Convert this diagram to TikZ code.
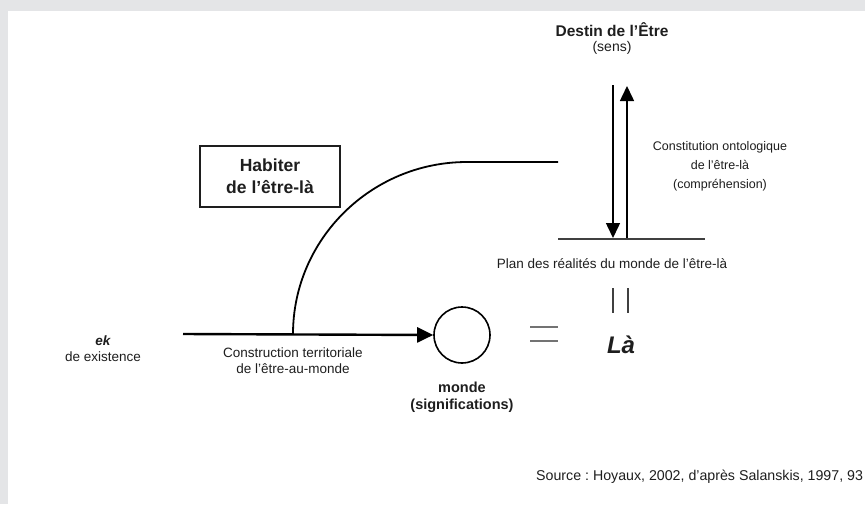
\documentclass[tikz,border=0pt]{standalone}
\usepackage{fontspec}
\setmainfont{Liberation Sans}
\usetikzlibrary{arrows.meta}
\definecolor{framegray}{HTML}{E4E5E7}
\definecolor{inkc}{HTML}{1E1E1E}
\frenchspacing
\begin{document}
\begin{tikzpicture}[x=1pt,y=-1pt,
  txt/.style={font=\fontsize{13.5}{16}\selectfont, text=inkc, align=center, inner sep=0pt},
  boldtxt/.style={txt, font=\fontsize{14.5}{17}\selectfont\bfseries},
  boxtxt/.style={font=\fontsize{17.5}{22}\selectfont\bfseries, text=inkc, align=center, draw=inkc, line width=1.3pt, minimum width=140, minimum height=61, inner sep=0pt},
  vert/.style={draw=black, line width=1.5pt, -{Triangle[length=15pt,width=14pt]}},
  mainarr/.style={draw=black, line width=2.4pt, -{Triangle[length=16pt,width=15pt]}},
  curveline/.style={draw=black, line width=1.8pt},
  thinline/.style={draw=black!75, line width=1.3pt},
  eqline/.style={draw=black!55, line width=2pt}
]
\useasboundingbox (0,0) rectangle (865,504);
\clip (0,0) rectangle (865,504);
\fill[framegray] (0,0) rectangle (865,504);
\fill[white] (8,11) rectangle (865,504);

% top: destiny
\node[boldtxt, font=\fontsize{15.5}{18}\selectfont\bfseries] (destin) at (612,30) {Destin de l'Être};
\node[txt, font=\fontsize{14}{16}\selectfont] (sens) at (612,48) {(sens)};
\coordinate (downtop) at (613,85);
\coordinate (downbot) at (613,238);
\coordinate (upbot) at (627,239);
\coordinate (uptop) at (627,86);
\draw[vert] (downtop) -- (downbot);
\draw[vert] (upbot) -- (uptop);

% plan line
\coordinate (planL) at (558,239);
\coordinate (planR) at (705,239);
\draw[thinline] (planL) -- (planR);
\node[txt] (plan) at (612,264) {Plan des réalités du monde de l'être-là};

\node[txt, font=\fontsize{12.5}{19}\selectfont] (constit) at (720,166) {Constitution ontologique\\de l'être-là\\(compréhension)};

% habiter box
\node[boxtxt] (habiter) at (270,176.5) {Habiter\\de l'être-là};

% world circle and main arrow
\node[draw=black, circle, line width=1.6pt, minimum size=56, inner sep=0pt] (monde) at (462,335) {};
\coordinate (ekend) at (183,334);
\draw[mainarr] (ekend) -- (monde.west);

% curve
\coordinate (curvestart) at (293,334);
\coordinate (curvetop) at (467,162);
\coordinate (curveend) at (558,162);
\draw[curveline] (curvestart) .. controls (293,239.6) and (370.9,162) .. (curvetop) -- (curveend);

% equals and parallel marks
\coordinate (eqAL) at (530,327); \coordinate (eqAR) at (558,327);
\coordinate (eqBL) at (530,341); \coordinate (eqBR) at (558,341);
\draw[eqline] (eqAL) -- (eqAR);
\draw[eqline] (eqBL) -- (eqBR);
\coordinate (parAt) at (613,288); \coordinate (parAb) at (613,313);
\coordinate (parBt) at (628,288); \coordinate (parBb) at (628,313);
\draw[thinline] (parAt) -- (parAb);
\draw[thinline] (parBt) -- (parBb);
\node[font=\fontsize{24}{28}\selectfont\bfseries\itshape, text=inkc, inner sep=0pt] (la) at (621,345) {Là};

% labels
\node[font=\fontsize{13.5}{16}\selectfont\bfseries\itshape, text=inkc, inner sep=0pt] (ek) at (103,341) {ek};
\node[txt] (exist) at (103,357) {de existence};
\node[txt] (constr) at (293,361) {Construction territoriale\\de l'être-au-monde};
\node[boldtxt] (mondelbl) at (462,397.5) {monde\\(significations)};

\node[txt, anchor=west, font=\fontsize{14.2}{17}\selectfont] (source) at (536,477) {Source : Hoyaux, 2002, d'après Salanskis, 1997, 93};
\end{tikzpicture}
\end{document}
